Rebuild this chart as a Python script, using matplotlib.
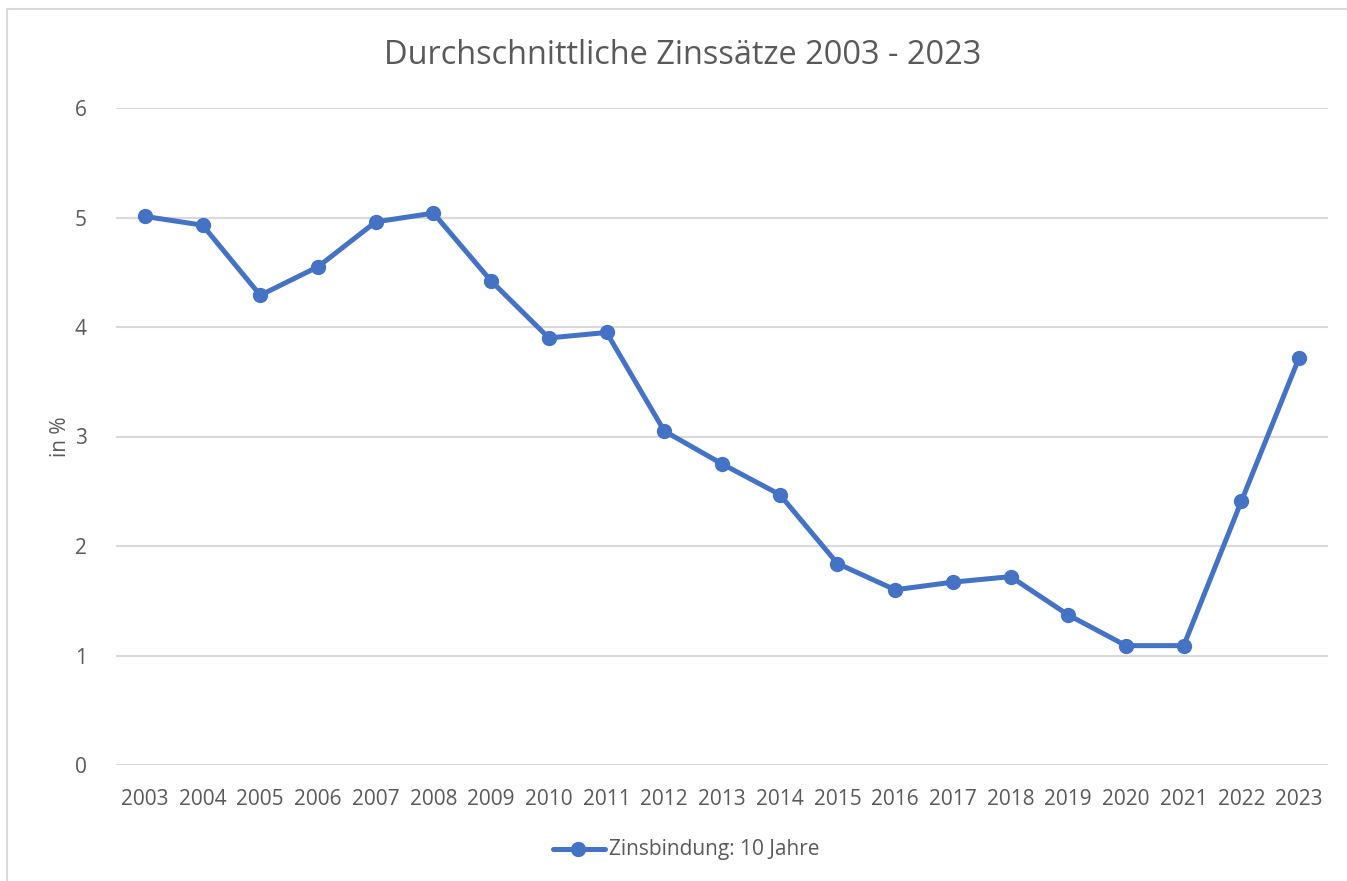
import matplotlib
matplotlib.use("Agg")
import matplotlib.pyplot as plt
from matplotlib.patches import Rectangle
from matplotlib.lines import Line2D

plt.rcParams['font.family'] = ['Open Sans', 'DejaVu Sans']

years = ["2003", "2004", "2005", "2006", "2007", "2008", "2009", "2010", "2011", "2012",
         "2013", "2014", "2015", "2016", "2017", "2018", "2019", "2020", "2021", "2022", "2023"]
rates = [5.01, 4.93, 4.29, 4.55, 4.96, 5.04, 4.42, 3.90, 3.95, 3.05,
         2.75, 2.47, 1.84, 1.60, 1.67, 1.72, 1.37, 1.09, 1.09, 2.41, 3.72]
series_name = "Zinsbindung: 10 Jahre"
title = "Durchschnittliche Zinssätze 2003 - 2023"
ylabel = "in %"
yticks = [0, 1, 2, 3, 4, 5, 6]

BLUE = "#4472C4"
TXT = "#595959"
GRID = "#D9D9D9"

W, H = 1347, 881
fig = plt.figure(figsize=(W / 100, H / 100), dpi=100)
fig.patch.set_facecolor("white")

# outer chart border
fig.patches.append(Rectangle((7 / W, -0.2), 1.2, 1.2 - 9 / H, transform=fig.transFigure,
                             fill=False, edgecolor=GRID, linewidth=1.5, zorder=0))

ax = fig.add_axes([116 / W, 1 - 765 / H, (1328 - 116) / W, (765 - 108) / H])
x = list(range(len(years)))
ax.plot(x, rates, color=BLUE, linewidth=3.6, marker="o", markersize=10,
        solid_joinstyle="round", zorder=3, clip_on=False)

ax.set_xlim(-0.5, len(years) - 0.5)
ax.set_ylim(0, 6)
ax.set_yticks(yticks)
ax.set_xticks(x)
ax.set_xticklabels(years)
ax.yaxis.grid(True, color=GRID, linewidth=1.5)
ax.set_axisbelow(True)
for s in ["top", "right", "left", "bottom"]:
    ax.spines[s].set_visible(False)
ax.tick_params(axis="both", length=0, colors=TXT, labelsize=15)
ax.tick_params(axis="y", pad=21)
ax.tick_params(axis="x", pad=17)

fig.text(683 / W, 1 - 55 / H, title, ha="center", va="center", fontsize=23.4, color=TXT)
fig.text(60 / W, 1 - 437 / H, ylabel, ha="center", va="center", rotation=90,
         fontsize=15, color=TXT)

# legend
ly = 1 - 849 / H
fig.add_artist(Line2D([553 / W, 605 / W], [ly, ly], transform=fig.transFigure,
                      color=BLUE, linewidth=3.6, solid_capstyle="round"))
fig.add_artist(Line2D([578 / W], [ly], transform=fig.transFigure, color=BLUE,
                      marker="o", markersize=10, linestyle="none"))
fig.text(609 / W, ly, series_name, ha="left", va="center", fontsize=15, color=TXT)

fig.savefig("out.png", dpi=100, facecolor="white")
